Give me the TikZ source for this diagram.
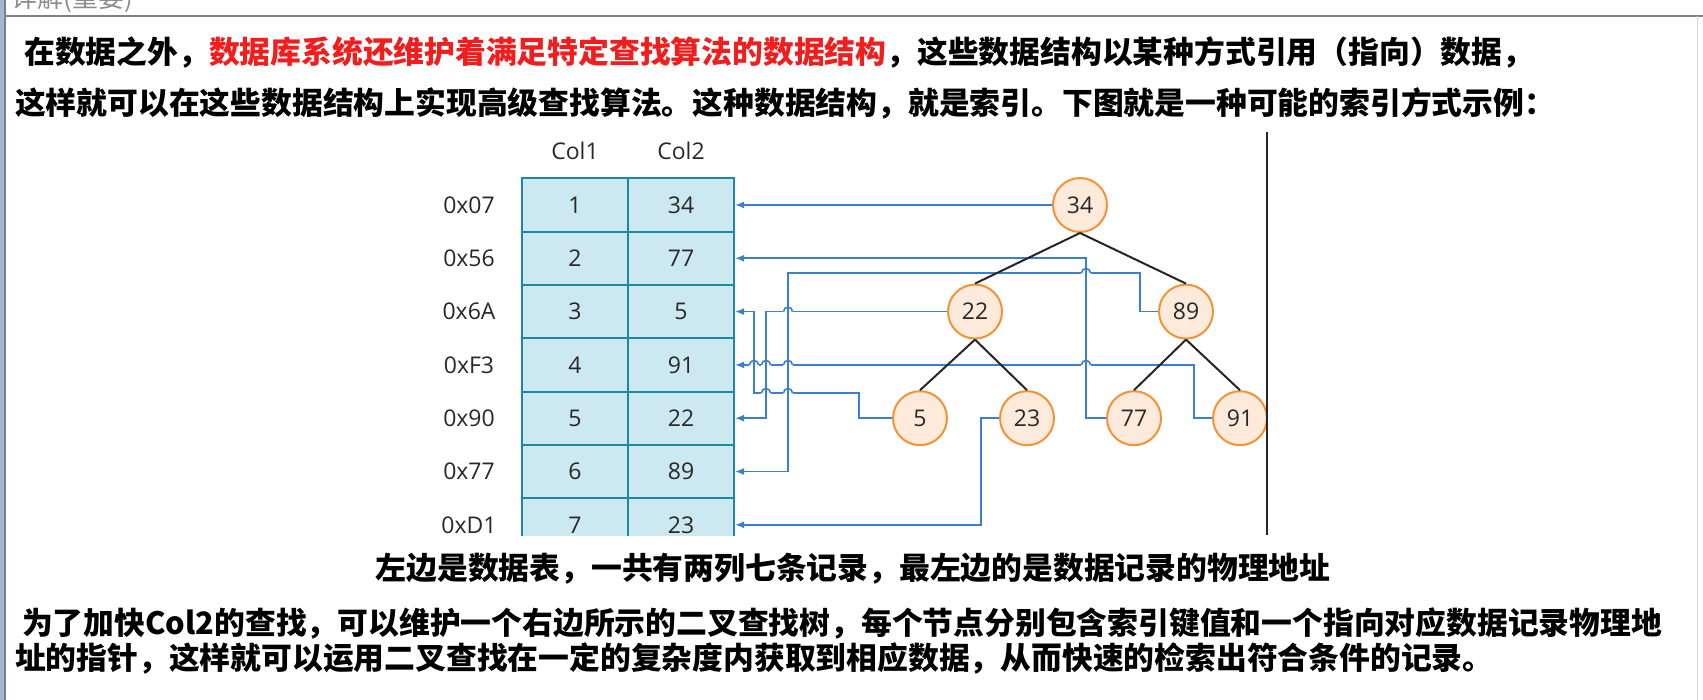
\documentclass[tikz,border=0pt]{standalone}
\usepackage{fontspec}
\setmainfont{Open Sans}
\newfontfamily\cjk{Noto Sans CJK SC}
\usetikzlibrary{arrows.meta, calc}

\definecolor{cellfill}{RGB}{204,232,240}
\definecolor{cellline}{RGB}{30,135,165}
\definecolor{nodefill}{RGB}{253,234,218}
\definecolor{nodeline}{RGB}{243,146,55}
\definecolor{ptr}{RGB}{60,128,205}
\definecolor{ink}{RGB}{40,40,40}
\definecolor{framegray}{RGB}{120,128,145}
\definecolor{sidebar}{RGB}{165,182,208}
\definecolor{hilite}{RGB}{240,30,30}

\tikzset{
  hop/.pic={\fill[white] (-5,-2) rectangle (5,2);
            \draw[ptrline] (0,-3) -- (0,3);
            \draw[ptrline] (-4.5,0) arc[start angle=180, end angle=360, radius=4.5];}
}

\begin{document}
\begin{tikzpicture}[x=1pt, y=-1pt,
    every node/.style={font=\fontsize{23}{26}\selectfont, text=ink},
    tcell/.style={draw=cellline, fill=cellfill, line width=2pt, minimum width=106pt, minimum height=53.3pt, inner sep=0pt},
    treenode/.style={circle, draw=nodeline, fill=nodefill, line width=2pt, minimum size=54pt, inner sep=0pt},
    branch/.style={line width=2pt, black!85},
    ptrline/.style={ptr, line width=1.6pt},
    ptrarrow/.style={ptrline, -{Latex[length=9pt,width=7pt]}},
    txt/.style={font=\cjk\bfseries\fontsize{30.8}{34}\selectfont, text=black, inner sep=0pt, anchor=west}]
  \useasboundingbox (0,0) rectangle (1703,700);
  \fill[white] (0,0) rectangle (1703,700);
  % window frame
  \fill[sidebar] (0,0) rectangle (4,700);
  \draw[framegray, line width=1.3pt] (5,0) -- (5,700);
  \draw[framegray, line width=1.5pt] (5,16) -- (1703,16);
  \draw[black!15, line width=1pt] (1697,16) -- (1697,700);
  \begin{scope}
    \clip (6,0) rectangle (1703,14);
    \node[font=\cjk\fontsize{26}{28}\selectfont, text=black!45, anchor=west] (title) at (8,-1) {详解(重要)};
  \end{scope}
  % text above
  \node[txt] (p1) at (24,52) {在数据之外，\textcolor{hilite}{数据库系统还维护着满足特定查找算法的数据结构}，这些数据结构以某种方式引用（指向）数据，};
  \node[txt] (p2) at (15,103) {这样就可以在这些数据结构上实现高级查找算法。这种数据结构，就是索引。下图就是一种可能的索引方式示例：};
  % table
  \node (h1) at (575,151) {Col1}; \node (h2) at (681,151) {Col2};
  \begin{scope}
    \clip (0,0) rectangle (1703,535);
    \node (a1) at (469,205) {0x07}; \node[tcell] (i1) at (575,205) {1}; \node[tcell] (v1) at (681,205) {34};
    \node (a2) at (469,258.3) {0x56}; \node[tcell] (i2) at (575,258.3) {2}; \node[tcell] (v2) at (681,258.3) {77};
    \node (a3) at (469,311.6) {0x6A}; \node[tcell] (i3) at (575,311.6) {3}; \node[tcell] (v3) at (681,311.6) {5};
    \node (a4) at (469,364.9) {0xF3}; \node[tcell] (i4) at (575,364.9) {4}; \node[tcell] (v4) at (681,364.9) {91};
    \node (a5) at (469,418.2) {0x90}; \node[tcell] (i5) at (575,418.2) {5}; \node[tcell] (v5) at (681,418.2) {22};
    \node (a6) at (469,471.5) {0x77}; \node[tcell] (i6) at (575,471.5) {6}; \node[tcell] (v6) at (681,471.5) {89};
    \node (a7) at (469,524.8) {0xD1}; \node[tcell] (i7) at (575,524.8) {7}; \node[tcell] (v7) at (681,524.8) {23};
  \end{scope}
  % search tree
  \node[treenode] (t34) at (1080,205) {34};
  \node[treenode] (t22) at (975,311.6) {22}; \node[treenode] (t89) at (1186,311.6) {89};
  \node[treenode] (t5) at (920,418.2) {5}; \node[treenode] (t23) at (1027,418.2) {23};
  \node[treenode] (t77) at (1134,418.2) {77}; \node[treenode] (t91) at (1240,418.2) {91};
  % pointers to the rows
  \coordinate (j77) at (1086,418.2);
  \coordinate (j89a) at (1140,273); \coordinate (j89b) at (788,273);
  \coordinate (j22) at (766,311.6);
  \coordinate (j5a) at (859,393); \coordinate (j5b) at (754,393);
  \coordinate (j91) at (1194,364.9);
  \coordinate (j23) at (981,418.2);
  \draw[ptrarrow] (t34) -- (v1.east);
  \draw[ptrarrow] (t77.west) -- (j77) |- (v2.east);
  \draw[ptrarrow] (t89.west) -| (j89a) -- (j89b) |- (v6.east);
  \draw[ptrarrow] (t22.west) -- (j22) |- (v5.east);
  \draw[ptrarrow] (t5.west) -| (j5a) -- (j5b) |- (v3.east);
  \draw[ptrarrow] (t91.west) -| (j91) -- (v4.east);
  \draw[ptrarrow] (t23.west) -- (j23) |- (v7.east);
  % line hops
  \pic at (1086,273) {hop}; \pic at (1086,364.9) {hop};
  \pic at (788,311.6) {hop}; \pic at (788,364.9) {hop}; \pic at (788,393) {hop};
  \pic at (766,364.9) {hop}; \pic at (766,393) {hop}; \pic at (754,364.9) {hop};
  % tree edges
  \draw[branch] (t34.south) -- (t22.north); \draw[branch] (t34.south) -- (t89.north);
  \draw[branch] (t22.south) -- (t5.north); \draw[branch] (t22.south) -- (t23.north);
  \draw[branch] (t89.south) -- (t77.north); \draw[branch] (t89.south) -- (t91.north);
  \draw[line width=1.5pt, black!85] (1267,132) -- (1267,535);
  % text below
  \node[txt, anchor=center] (cap) at (853,569) {左边是数据表，一共有两列七条记录，最左边的是数据记录的物理地址};
  \node[txt] (p3) at (22,624) {为了加快Col2的查找，可以维护一个右边所示的二叉查找树，每个节点分别包含索引键值和一个指向对应数据记录物理地};
  \node[txt] (p4) at (15,659) {址的指针，这样就可以运用二叉查找在一定的复杂度内获取到相应数据，从而快速的检索出符合条件的记录。};
\end{tikzpicture}
\end{document}
